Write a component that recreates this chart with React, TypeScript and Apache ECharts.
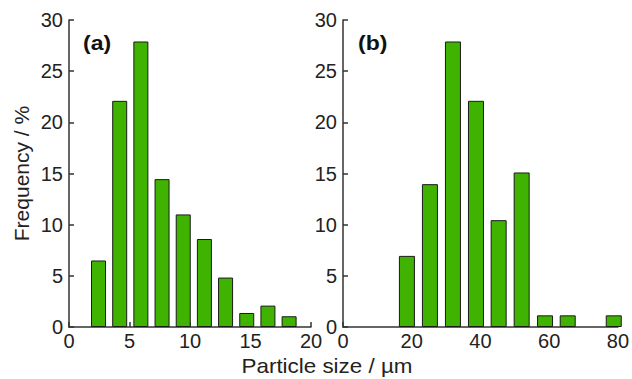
import React, { useEffect, useRef } from "react";
import * as echarts from "echarts";

const sizesA = [2.44, 4.19, 5.94, 7.69, 9.44, 11.19, 12.94, 14.69, 16.44, 18.19];
const freqA = [6.5, 22.1, 27.9, 14.45, 11.0, 8.6, 4.83, 1.37, 2.09, 1.05];
const sizesB = [18.6, 25.3, 32.0, 38.7, 45.3, 52.0, 58.8, 65.4, 78.8];
const freqB = [6.95, 13.96, 27.9, 22.1, 10.44, 15.1, 1.14, 1.14, 1.14];
const xTicksA = { min: 0, max: 20, interval: 5 };
const xTicksB = { min: 0, max: 80, interval: 20 };
const yTicks = { min: 0, max: 30, interval: 5 };

const FONT = "Liberation Sans, Arial, sans-serif";
const AXIS_COLOR = "#333";
const TEXT_COLOR = "#222";
const BAR_COLOR = "#3fb300";
const FS = 20;

export default function App() {
  const ref = useRef<HTMLDivElement>(null);
  useEffect(() => {
    if (!ref.current) return;
    const chart = echarts.init(ref.current, undefined, { renderer: "svg" });
    const axisCommon = {
      type: "value" as const,
      axisLine: { show: true, lineStyle: { color: AXIS_COLOR, width: 1.5 } },
      axisTick: { show: true, inside: true, length: 5, lineStyle: { color: AXIS_COLOR, width: 1.5 } },
      splitLine: { show: false },
      axisLabel: { color: TEXT_COLOR, fontSize: FS, fontFamily: FONT },
    };
    chart.setOption({
      animation: false,
      backgroundColor: "#fff",
      grid: [
        { left: 69, top: 20, width: 242, height: 307 },
        { left: 343, top: 20, width: 275, height: 307 },
      ],
      xAxis: [
        { ...axisCommon, gridIndex: 0, ...xTicksA, axisLabel: { ...axisCommon.axisLabel, margin: 4 } },
        { ...axisCommon, gridIndex: 1, ...xTicksB, axisLabel: { ...axisCommon.axisLabel, margin: 4 } },
      ],
      yAxis: [
        {
          ...axisCommon,
          gridIndex: 0,
          ...yTicks,
          axisLabel: { ...axisCommon.axisLabel, margin: 6 },
          name: "Frequency / %",
          nameLocation: "middle",
          nameGap: 37,
          nameTextStyle: { color: TEXT_COLOR, fontSize: FS + 1, fontFamily: FONT },
        },
        { ...axisCommon, gridIndex: 1, ...yTicks, axisLabel: { ...axisCommon.axisLabel, margin: 6 } },
      ],
      series: [
        {
          type: "bar",
          xAxisIndex: 0,
          yAxisIndex: 0,
          barWidth: 15,
          clip: true,
          data: sizesA.map((s, i) => [s, freqA[i]]),
          itemStyle: { color: BAR_COLOR, borderColor: "#1a1a1a", borderWidth: 1 },
        },
        {
          type: "bar",
          xAxisIndex: 1,
          yAxisIndex: 1,
          barWidth: 16,
          clip: true,
          data: sizesB.map((s, i) => [s, freqB[i]]),
          itemStyle: { color: BAR_COLOR, borderColor: "#1a1a1a", borderWidth: 1 },
        },
      ],
      graphic: [
        {
          type: "text",
          x: 83,
          y: 43,
          scaleX: 1.15,
          style: { text: "(a)", fontSize: FS, fontWeight: "bold", fontFamily: FONT, fill: "#111", verticalAlign: "middle" },
        },
        {
          type: "text",
          x: 358,
          y: 43,
          scaleX: 1.15,
          style: { text: "(b)", fontSize: FS, fontWeight: "bold", fontFamily: FONT, fill: "#111", verticalAlign: "middle" },
        },
        {
          type: "text",
          x: 327,
          y: 366,
          scaleX: 1.12,
          style: {
            text: "Particle size / µm",
            fontSize: FS,
            fontFamily: FONT,
            fill: TEXT_COLOR,
            align: "center",
            verticalAlign: "middle",
          },
        },
      ],
    });
    return () => chart.dispose();
  }, []);
  return <div ref={ref} style={{ width: 632, height: 379, position: "absolute", left: 0, top: 0 }} />;
}
